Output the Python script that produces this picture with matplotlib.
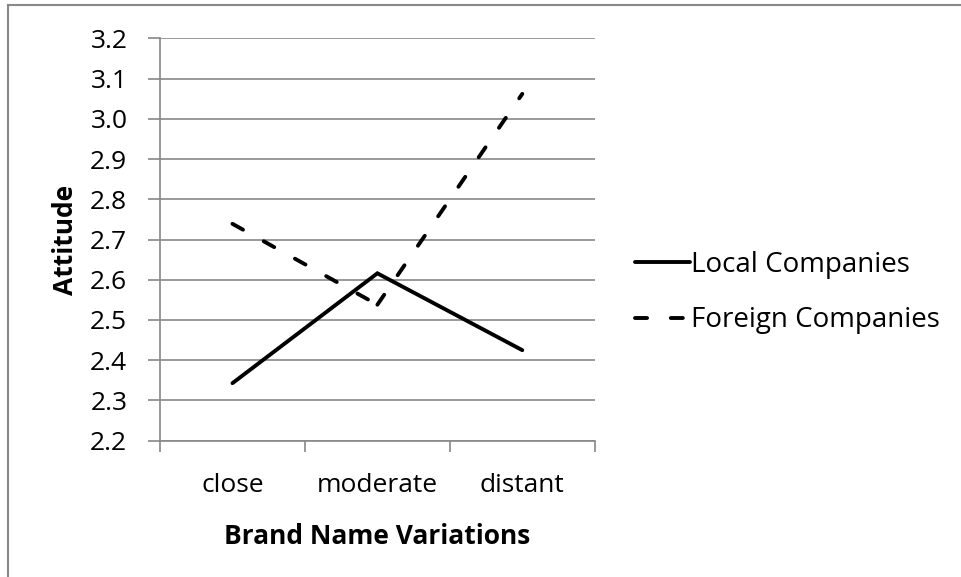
import matplotlib
matplotlib.use('Agg')
import matplotlib.pyplot as plt
from matplotlib.lines import Line2D

params = {
    'font.family': ['Open Sans', 'DejaVu Sans'],
    'font.size': 19,
}
plt.rcParams.update(params)

categories = ['close', 'moderate', 'distant']
local = [2.343, 2.616, 2.425]
foreign = [2.739, 2.538, 3.062]
yticks = [2.2, 2.3, 2.4, 2.5, 2.6, 2.7, 2.8, 2.9, 3.0, 3.1, 3.2]

fig = plt.figure(figsize=(9.61, 5.77), dpi=100)
ax = fig.add_axes([0.1665, 0.2362, 0.4524, 0.6974])

xpos = [0.5, 1.5, 2.5]
ax.plot(xpos, local, color='black', lw=2.8, solid_capstyle='round',
        solid_joinstyle='miter', label='Local Companies')
# dash pattern restarts on each segment (like the original)
for i in range(len(xpos) - 1):
    ax.plot(xpos[i:i + 2], foreign[i:i + 2], color='black', lw=2.8,
            dashes=(3.1, 6.1), dash_capstyle='round',
            label='Foreign Companies' if i == 0 else '_nolegend_')

ax.set_xlim(0, 3)
ax.set_ylim(2.2, 3.2)
ax.set_yticks(yticks)
ax.set_yticklabels(['%.1f' % v for v in yticks])
ax.yaxis.grid(True, color='#888888', lw=1.2)
ax.set_axisbelow(True)
ax.tick_params(axis='y', length=8.5, width=1.2, color='#888888', pad=15)

ax.set_xticks(xpos)
ax.set_xticklabels(categories)
ax.set_xticks([0, 1, 2, 3], minor=True)
ax.tick_params(axis='x', which='major', length=0, pad=23)
ax.tick_params(axis='x', which='minor', length=8, width=1.2, color='#888888')

for s in ['top', 'right']:
    ax.spines[s].set_visible(False)
for s in ['left', 'bottom']:
    ax.spines[s].set_color('#888888')
    ax.spines[s].set_linewidth(1.2)

ax.set_ylabel('Attitude', fontweight='bold', fontsize=19, labelpad=8)
ax.set_xlabel('Brand Name Variations', fontweight='bold', fontsize=19, labelpad=18)

leg = fig.legend(loc='center left', bbox_to_anchor=(0.6608, 0.4931), frameon=False,
                 borderpad=0, borderaxespad=0, handlelength=1.98,
                 handletextpad=0.05, labelspacing=1.0, fontsize=20)

# chart border (only left/top visible in the crop)
fig.add_artist(Line2D([0.0085, 0.0085], [0, 0.991], color='#888888', lw=1.5))
fig.add_artist(Line2D([0.0085, 1.0], [0.991, 0.991], color='#888888', lw=1.5))

plt.savefig('out.png', dpi=100)
